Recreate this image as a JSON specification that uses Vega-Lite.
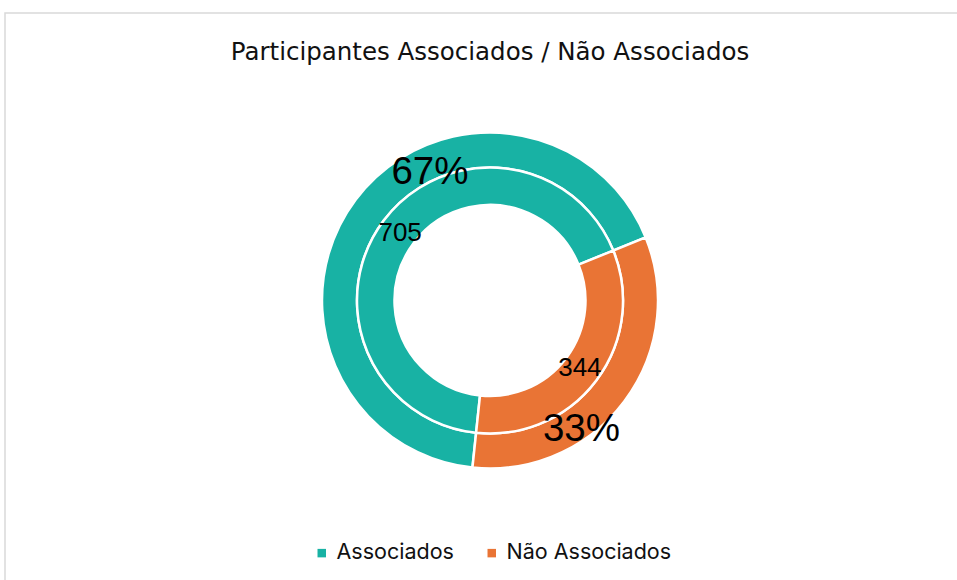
{
  "$schema": "https://vega.github.io/schema/vega-lite/v6.json",
  "width": 970,
  "height": 575,
  "autosize": {"type": "none"},
  "padding": {"left": 5, "top": 13, "right": -18, "bottom": -8},
  "background": "white",
  "view": {"stroke": "#d9d9d9", "strokeWidth": 1.5},
  "config": {
    "view": {"stroke": "#d9d9d9", "strokeWidth": 1.5}
  },
  "title": {
    "text": "Participantes Associados / Não Associados",
    "font": "DejaVu Sans",
    "fontSize": 24.5,
    "fontWeight": "normal",
    "color": "#111111",
    "anchor": "middle",
    "offset": 0,
    "dy": 52
  },
  "data": {
    "values": [
      {"Grupo": "Associados", "Participantes": 705, "Rotulo": "67%"},
      {"Grupo": "Não Associados", "Participantes": 344, "Rotulo": "33%"}
    ]
  },
  "encoding": {
    "theta": {
      "field": "Participantes",
      "type": "quantitative",
      "stack": true,
      "scale": {"range": [3.2463, 9.5295]}
    },
    "order": {"field": "Grupo", "type": "nominal", "sort": "ascending"}
  },
  "layer": [
    {
      "mark": {"type": "arc", "radius": 168, "radius2": 133, "stroke": "white", "strokeWidth": 2.5},
      "encoding": {
        "color": {
          "field": "Grupo",
          "type": "nominal",
          "scale": {"domain": ["Associados", "Não Associados"], "range": ["#18B2A4", "#E97435"]},
          "legend": {
            "orient": "none",
            "legendX": 306,
            "legendY": 529,
            "direction": "horizontal",
            "title": null,
            "symbolType": "square",
            "symbolSize": 72,
            "symbolStrokeWidth": 0,
            "labelFont": "Inter",
            "labelFontSize": 21.5,
            "labelColor": "#111111",
            "labelOffset": 4,
            "labelLimit": 400,
            "columnPadding": 27
          }
        }
      }
    },
    {
      "mark": {"type": "arc", "radius": 133, "radius2": 95.5, "stroke": "white", "strokeWidth": 2.5},
      "encoding": {
        "color": {"field": "Grupo", "type": "nominal"}
      }
    },
    {
      "mark": {"type": "text", "radius": 112.5, "font": "Liberation Sans", "fontSize": 26, "color": "black"},
      "encoding": {
        "text": {"field": "Participantes", "type": "quantitative"}
      }
    },
    {
      "mark": {"type": "text", "radius": 141.4, "thetaOffset": 0.487, "font": "Liberation Sans", "fontSize": 38.5, "color": "black"},
      "encoding": {
        "text": {
          "condition": {"test": "datum.Grupo === 'Associados'", "field": "Rotulo"},
          "value": ""
        }
      }
    },
    {
      "mark": {"type": "text", "radius": 157.5, "thetaOffset": 0.306, "font": "Liberation Sans", "fontSize": 38.5, "color": "black"},
      "encoding": {
        "text": {
          "condition": {"test": "datum.Grupo === 'Não Associados'", "field": "Rotulo"},
          "value": ""
        }
      }
    }
  ]
}
